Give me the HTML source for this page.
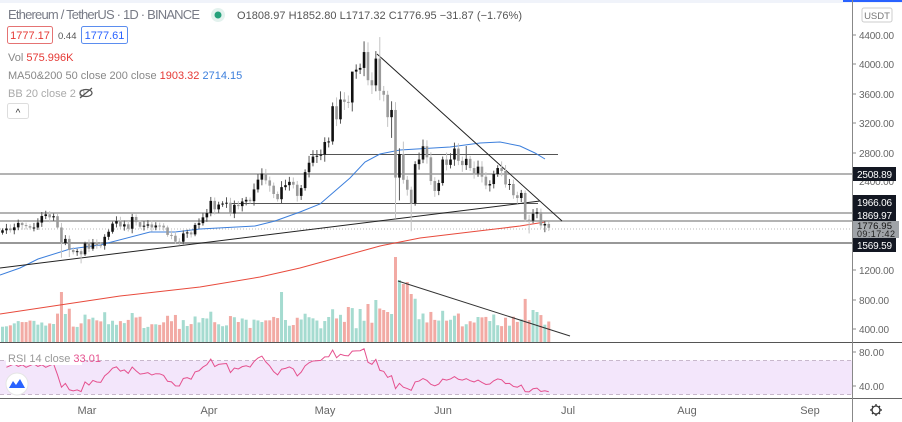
<!DOCTYPE html>
<html><head><meta charset="utf-8"><style>
body{margin:0;width:902px;height:422px;overflow:hidden;background:#fff;font-family:"Liberation Sans",sans-serif}
svg{position:absolute;left:0;top:0}
.t{font-family:"Liberation Sans",sans-serif}
</style></head><body>
<svg id="s" width="902" height="422" xmlns="http://www.w3.org/2000/svg"></svg>
<script>
const C=[1743,1768,1744,1783,1843,1814,1800,1779,1781,1848,1937,1960,1919,1935,1781,1570,1626,1475,1446,1459,1416,
1564,1492,1575,1541,1533,1654,1723,1834,1868,1795,1824,1764,1924,1854,1791,1806,1823,1782,1808,1806,1781,1680,1669,1589,1588,1700,1714,1687,1816,1840,1919,
1977,2143,2028,2093,2107,2118,1971,2089,2072,2135,2158,2139,2299,2432,2515,2422,2350,2237,2166,2330,2357,2402,2363,2211,2317,2534,2662,2746,2757,2773,
2944,2952,3431,3253,3522,3490,3482,3902,3928,3952,4168,3785,3715,4079,3640,3587,3282,3380,2460,2780,2430,2295,2109,2643,2706,2886,2736,2413,2278,2386,2706,
2633,2706,2855,2688,2630,2715,2590,2517,2609,2472,2353,2372,2508,2590,2550,2367,2373,2220,2182,2251,1888,1874,1969,1989,1809,1829,1777];
const N=C.length;
const X=i=>2.5+i*3.93;
const Y=p=>35+(4400-p)*0.0735;
let s='';
s+='<rect x="0" y="0" width="902" height="3" fill="#f0f3fa"/><rect x="843" y="0" width="59" height="2" fill="#2962ff"/>';
s+='<rect x="0" y="360.5" width="852" height="34" fill="#f3e6fb"/>';
s+='<line x1="0" y1="360.5" x2="852" y2="360.5" stroke="#c8b8cc" stroke-dasharray="4,3"/>';
s+='<line x1="0" y1="394.5" x2="852" y2="394.5" stroke="#c8b8cc" stroke-dasharray="4,3"/>';
[[174,'#9a9a9a',1.5],[213,'#9a9a9a',1.5],[221,'#9a9a9a',1.5],[243,'#777',1.5]].forEach(l=>{s+=`<line x1="0" y1="${l[0]}" x2="852" y2="${l[0]}" stroke="${l[1]}" stroke-width="${l[2]}"/>`});
s+='<line x1="0" y1="229" x2="852" y2="229" stroke="#bbb" stroke-width="1" stroke-dasharray="1,2"/>';
s+='<line x1="310" y1="154.5" x2="558" y2="154.5" stroke="#555" stroke-width="1"/>';
s+='<line x1="230" y1="203.5" x2="538" y2="203.5" stroke="#555" stroke-width="1"/>';
for(let i=0;i<N;i++){const o=i?C[i-1]:1710;const up=C[i]>=o;let h=13+Math.abs(C[i]-o)/C[i]*120+((i*37)%9);
 const ov={15:50,16:28,71:50,72:22,100:85,101:62,102:58,103:60,104:48,93:38,95:42,97:32,135:32,136:30,83:25,88:35,91:33,121:25,98:30,99:28};if(ov[i])h=ov[i];h=Math.min(h,85);
 s+=`<rect x="${X(i)-1.5}" y="${342-h}" width="3" height="${h}" fill="${up?'#a5dbd0':'#f2aaa4'}"/>`;}
s+='<line x1="398" y1="281" x2="570" y2="336" stroke="#333" stroke-width="1"/>';
s+='<polyline fill="none" stroke="#e84a3c" stroke-width="1" points="0,314 60,305 120,296 200,287 260,277 300,268 340,257 380,246 420,238 470,232 520,226 545,222"/>';
s+='<polyline fill="none" stroke="#3c7fdc" stroke-width="1" points="0,275 20,268 38,259 70,249 100,245 150,232 175,232 200,229 255,226 275,221 300,212 320,204 335,191 350,178 365,162 380,154 400,150 450,147 480,143 500,142 520,146 535,153 545,159"/>';
s+='<line x1="0" y1="268" x2="540" y2="201" stroke="#222" stroke-width="1"/>';
s+='<line x1="377" y1="54" x2="562" y2="221" stroke="#222" stroke-width="1"/>';
const lowOv={15:1370,17:1380,20:1293,100:1900,101:2150,104:1730,134:1700,138:1717,99:3000,98:3150};
const hiOv={96:4372,102:2950,118:2890,89:3590};
for(let i=0;i<N;i++){const o=i?C[i-1]:1710,c=C[i];const up=c>=o;
 let hi=Math.max(o,c)*(1+0.015+((i*13)%7)/300),lo=Math.min(o,c)*(1-0.015-((i*11)%7)/300);
 if(lowOv[i])lo=lowOv[i];if(hiOv[i])hi=hiOv[i];
 const col=up?'#111':'#9b9b9b';const x=X(i);
 s+=`<line x1="${x}" y1="${Y(hi)}" x2="${x}" y2="${Y(lo)}" stroke="${up?'#555':'#c4c4c4'}" stroke-width="1"/>`;
 const y1=Y(Math.max(o,c)),y2=Y(Math.min(o,c));
 s+=`<rect x="${x-1.3}" y="${y1}" width="2.6" height="${Math.max(1,y2-y1)}" fill="${col}"/>`;}
let g=0,l=0;const r=[];for(let i=1;i<N;i++){const d=C[i]-C[i-1];const u=Math.max(d,0),dn=Math.max(-d,0);
 if(i<=14){g+=u/14;l+=dn/14;}else{g=(g*13+u)/14;l=(l*13+dn)/14;}r.push(100-100/(1+g/(l||1e-9)));}
let pts='';const rs=r.map((v,i)=>i<13?62+((i*7)%5):v);rs.forEach((v,i)=>{pts+=`${X(i+1)},${352+(80-v)*0.85} `});
s+=`<polyline fill="none" stroke="#e5508e" stroke-width="1" points="${pts}"/>`;
s+='<line x1="0" y1="342.5" x2="902" y2="342.5" stroke="#555" stroke-width="1"/>';
s+='<line x1="0" y1="398.5" x2="902" y2="398.5" stroke="#666" stroke-width="1"/>';
s+='<line x1="852.5" y1="0" x2="852.5" y2="422" stroke="#888" stroke-width="1"/>';
s+='<rect x="0" y="399" width="852" height="23" fill="#fff"/>';
[['Mar',87],['Apr',209],['May',325],['Jun',443],['Jul',568],['Aug',687],['Sep',810]].forEach(m=>{s+=`<text x="${m[1]}" y="414" font-size="11" fill="#666" text-anchor="middle" class="t">${m[0]}</text>`});
[[4400,35],[4000,64],[3600,94],[3200,123],[2800,153],[1200,270],[800,300],[400,329],[80,352],[40,386]].forEach(a=>{
 s+=`<line x1="852" y1="${a[1]}" x2="856" y2="${a[1]}" stroke="#888"/><text x="859" y="${a[1]+4}" font-size="10" fill="#666" class="t" textLength="${a[0]>=1000?35:a[0]>=100?30:25}">${a[0]}.00</text>`});
s+='<text x="859" y="185" font-size="10" fill="#666" class="t" textLength="35">2400.00</text>';
s+='<rect x="862" y="8" width="30" height="14" rx="2" fill="#fff" stroke="#ccc"/><text x="877" y="19" font-size="9.5" fill="#777" text-anchor="middle" class="t">USDT</text>';
[[2508.89,174],[1966.06,202],[1869.97,215],[1569.59,245]].forEach(b=>{
 s+=`<rect x="853" y="${b[1]-7}" width="43" height="14" fill="#131722"/><text x="857" y="${b[1]+4}" font-size="10" fill="#fff" class="t" textLength="35">${b[0]}</text>`});
s+='<rect x="853" y="221" width="46" height="17" fill="#9fa3a8"/><text x="857" y="229" font-size="9.5" fill="#111" class="t" textLength="35">1776.95</text><text x="857" y="237" font-size="9" fill="#222" class="t" textLength="38">09:17:42</text>';
s+='<g stroke="#333" stroke-width="1.3"><line x1="876" y1="404" x2="876" y2="416"/><line x1="870" y1="410" x2="882" y2="410"/><line x1="872" y1="406" x2="880" y2="414"/><line x1="880" y1="406" x2="872" y2="414"/></g><circle cx="876" cy="410" r="4" fill="#fff" stroke="#333" stroke-width="1.3"/>';
s+='<text x="8" y="19" font-size="13" fill="#787b86" class="t" textLength="192">Ethereum / TetherUS · 1D · BINANCE</text>';
s+='<circle cx="218" cy="15" r="7" fill="#e3f2ee"/><circle cx="218" cy="15" r="3.5" fill="#26a17b"/>';
s+='<text x="237" y="19" font-size="11" fill="#555" class="t" textLength="285">O1808.97  H1852.80  L1717.32  C1776.95  −31.87  (−1.76%)</text>';
s+='<rect x="7.5" y="26.5" width="45" height="17" rx="2" fill="#fff" stroke="#e57373"/><text x="30" y="39" font-size="11" fill="#e53935" text-anchor="middle" class="t">1777.17</text>';
s+='<text x="58" y="39" font-size="9.5" fill="#555" class="t">0.44</text>';
s+='<rect x="81.5" y="26.5" width="46" height="17" rx="2" fill="#fff" stroke="#5b8def"/><text x="104.5" y="39" font-size="11" fill="#2962ff" text-anchor="middle" class="t">1777.61</text>';
s+='<text x="8" y="61" font-size="11" fill="#888" class="t">Vol <tspan fill="#e53935">575.996K</tspan></text>';
s+='<text x="8" y="79" font-size="11" fill="#888" class="t">MA50&amp;200 50 close 200 close  <tspan fill="#e53935">1903.32</tspan> <tspan fill="#3c7fdc">2714.15</tspan></text>';
s+='<text x="8" y="97" font-size="11" fill="#aaa" class="t">BB 20 close 2 0</text>';
s+='<ellipse cx="86" cy="93" rx="6" ry="3.5" fill="none" stroke="#555" stroke-width="1.2"/><line x1="80" y1="98" x2="92" y2="88" stroke="#555" stroke-width="1.2"/>';
s+='<rect x="7.5" y="103.5" width="21" height="15" rx="2" fill="#fff" stroke="#ddd"/><text x="18" y="116" font-size="10" fill="#333" text-anchor="middle" class="t">^</text>';
s+='<rect x="6" y="350" width="76" height="15" fill="#fff"/><text x="8" y="362" font-size="11" fill="#999" class="t">RSI 14 close <tspan fill="#e5508e">33.01</tspan></text>';
s+='<circle cx="17" cy="384" r="11" fill="#fff" stroke="#e5e5e5"/><path d="M9,388 L13,381 L16,385 L20,379 L25,388 Z" fill="#2962ff"/>';
document.getElementById('s').innerHTML=s;
</script>
</body></html>
